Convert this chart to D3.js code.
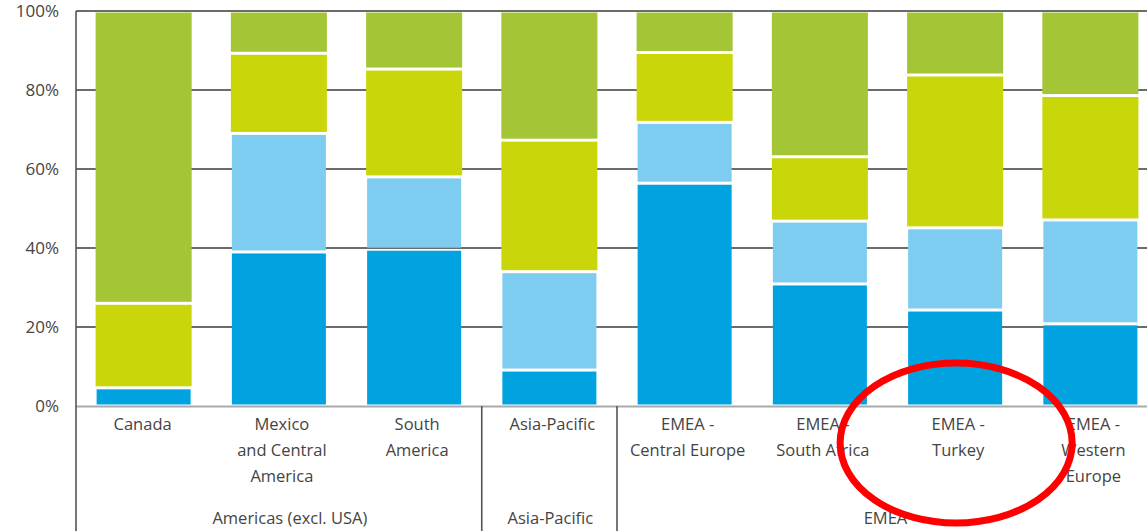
<!DOCTYPE html>
<html><head><meta charset="utf-8">
<script src="https://cdn.jsdelivr.net/npm/d3@7"></script>
<style>html,body{margin:0;padding:0;background:#fff;overflow:hidden}svg{display:block}</style>
</head><body>
<svg id="c" width="1147" height="532"></svg>
<script>
const categories = ["Canada","Mexico and Central America","South America","Asia-Pacific","EMEA - Central Europe","EMEA - South Africa","EMEA - Turkey","EMEA - Western Europe"];
const categoryLines = [["Canada"],["Mexico","and Central","America"],["South","America"],["Asia-Pacific"],["EMEA -","Central Europe"],["EMEA -","South Africa"],["EMEA -","Turkey"],["EMEA -","Western","Europe"]];
const groups = ["Americas (excl. USA)","Asia-Pacific","EMEA"];
const groupOf = [0,0,0,1,2,2,2,2];
const seriesKeys = ["s1","s2","s3","s4"];
const s1 = [4.6,39.0,39.7,9.1,56.4,30.9,24.3,20.8];
const s2 = [0,30.0,18.3,24.9,15.4,15.9,20.8,26.3];
const s3 = [21.4,20.3,27.3,33.3,17.7,16.3,38.7,31.5];
const s4 = [74.0,10.7,14.7,32.7,10.5,36.9,16.2,21.4];
const colors = ["#00a3e0","#7ecdf1","#c9d60a","#a3c536"];
const yTicks = [0,20,40,60,80,100];

(function(){
const svg = d3.select("#c");
const pTop = 11, pBottom = 406, pLeft = 76, pRight = 1158;
const x = d3.scaleBand().domain(categories).range([pLeft,pRight]).paddingInner(0.29).paddingOuter(0.145);
const y = d3.scaleLinear().domain([0,100]).range([pBottom,pTop]);

// gridlines
svg.append("g").selectAll("line").data(yTicks.filter(d=>d>0)).join("line")
  .attr("x1",pLeft).attr("x2",1147).attr("y1",d=>y(d)).attr("y2",d=>y(d))
  .attr("stroke","#3a3a3a").attr("stroke-width",1.6);

// stacked bars
const rows = categories.map((c,i)=>({cat:c,s1:s1[i],s2:s2[i],s3:s3[i],s4:s4[i]}));
const stack = d3.stack().keys(seriesKeys)(rows);
stack.forEach((layer,li)=>{
  svg.append("g").selectAll("rect").data(layer.filter(d=>d[1]-d[0]>0)).join("rect")
    .attr("x",d=>x(d.data.cat)+(li<2?1:0))
    .attr("width",x.bandwidth()-(li<2?2:0))
    .attr("y",d=>y(d[1])+1.5)
    .attr("height",d=>Math.max(0,y(d[0])-y(d[1])-3))
    .attr("fill",colors[li]);
});

// baseline
svg.append("line").attr("x1",pLeft).attr("x2",1147).attr("y1",pBottom+0.5).attr("y2",pBottom+0.5)
  .attr("stroke","#aaaaaa").attr("stroke-width",2);
// y axis line
svg.append("line").attr("x1",pLeft).attr("x2",pLeft).attr("y1",pTop).attr("y2",531)
  .attr("stroke","#555").attr("stroke-width",1.6);

// y tick labels
svg.append("g").selectAll("text").data(yTicks).join("text")
  .attr("x",59).attr("y",d=>y(d)).attr("dy","0.35em").attr("text-anchor","end")
  .attr("font-family","'Open Sans', sans-serif").attr("font-size",17).attr("fill","#444")
  .text(d=>d+"%");

// group separators
const bounds = [];
for (let i=1;i<categories.length;i++) if (groupOf[i]!==groupOf[i-1]) bounds.push(x(categories[i]) - x.step()*x.paddingInner()/2);
svg.append("g").selectAll("line").data(bounds).join("line")
  .attr("x1",d=>d).attr("x2",d=>d).attr("y1",pBottom).attr("y2",531)
  .attr("stroke","#555").attr("stroke-width",1.6);

// category labels
const cl = svg.append("g").attr("font-family","'Open Sans', sans-serif").attr("font-size",16.5).attr("fill","#444").attr("text-anchor","middle");
categories.forEach((c,i)=>{
  const cx = x(c)+x.bandwidth()/2 + (i===0?-1:3);
  const t = cl.append("text").attr("x",cx).attr("y",430);
  categoryLines[i].forEach((ln,j)=>t.append("tspan").attr("x",cx).attr("dy",j?26:0).text(ln));
});
// group labels
const groupDx = [11,1,-2];
groups.forEach((g,gi)=>{
  const idx = groupOf.map((v,i)=>v===gi?i:-1).filter(i=>i>=0);
  const a = x(categories[idx[0]]) - x.step()*x.paddingInner()/2;
  const b = x(categories[idx[idx.length-1]]) + x.bandwidth() + x.step()*x.paddingInner()/2;
  cl.append("text").attr("x",(a+b)/2+groupDx[gi]).attr("y",524).text(g);
});

// red annotation ellipse
svg.append("ellipse").attr("cx",x("EMEA - Turkey")+x.bandwidth()/2+1).attr("cy",443).attr("rx",116).attr("ry",80)
  .attr("fill","none").attr("stroke","#ff0000").attr("stroke-width",7);
})();
</script>
</body></html>
